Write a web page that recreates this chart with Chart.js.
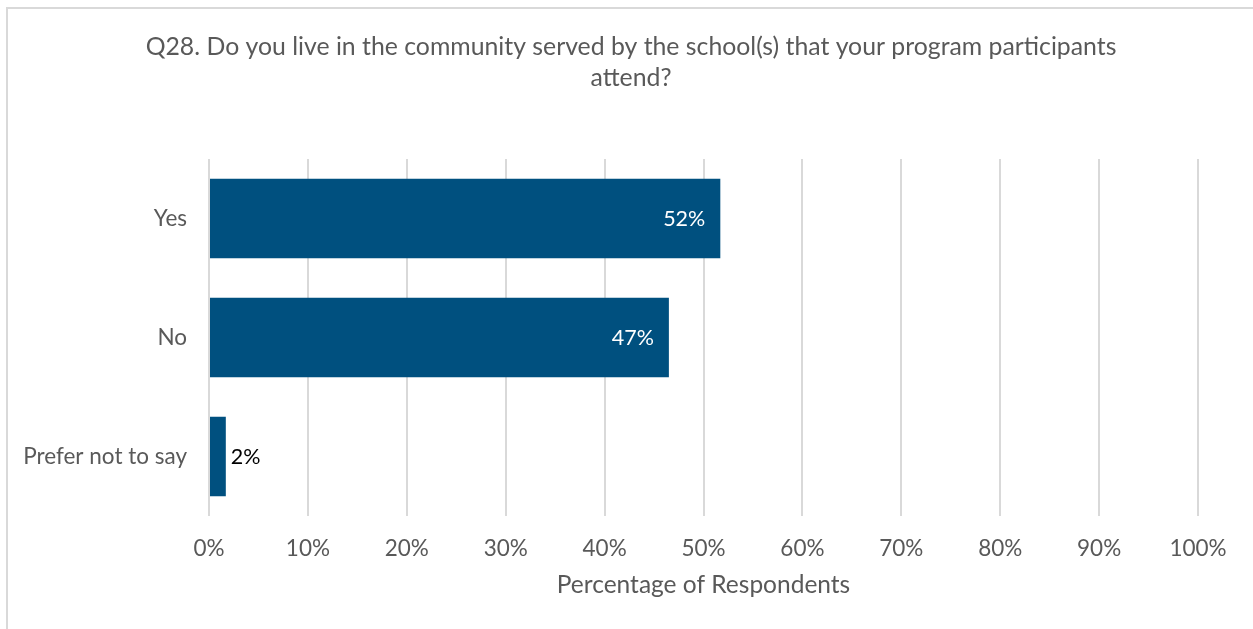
<!DOCTYPE html>
<html>
<head>
<meta charset="utf-8">
<script src="https://cdn.jsdelivr.net/npm/chart.js@4"></script>
<style>
  html, body { margin: 0; padding: 0; background: #fff; }
  #wrap { position: relative; width: 1253px; height: 629px; overflow: hidden; }
  #frame { position: absolute; left: 6px; top: 7px; width: 1300px; height: 700px;
           border-left: 2px solid #d9d9d9; border-top: 2px solid #d9d9d9; box-sizing: border-box; }
  canvas { position: absolute; left: 0; top: 0; }
</style>
</head>
<body>
<div id="wrap">
  <div id="frame"></div>
  <canvas id="chart" width="1253" height="629"></canvas>
</div>
<script>
// Survey question and answers
const titleLines = ['Q28. Do you live in the community served by the school(s) that your program participants', 'attend?'];
const categories = ['Yes', 'No', 'Prefer not to say'];
const percentages = [51.7, 46.5, 1.7];
const xTickValues = [0, 10, 20, 30, 40, 50, 60, 70, 80, 90, 100];
const xAxisTitle = 'Percentage of Respondents';

const FONT = "Lato, 'Open Sans', sans-serif";
const TEXT = '#595959';
const BAR = '#00507F';

// Question title, centred over the whole frame (category labels included) rather than the plot
const frameTitle = {
  id: 'frameTitle',
  afterDraw(chart) {
    const ctx = chart.ctx;
    ctx.save();
    ctx.font = '24.8px ' + FONT;
    ctx.fillStyle = TEXT;
    ctx.textAlign = 'center';
    ctx.textBaseline = 'middle';
    const cx = 631;
    titleLines.forEach((line, i) => ctx.fillText(line, cx, 47 + i * 31));
    ctx.restore();
  }
};

// Writes each percentage at the end of its bar: inside in white when it fits, outside in black otherwise
const barLabels = {
  id: 'barLabels',
  afterDatasetsDraw(chart) {
    const ctx = chart.ctx;
    const meta = chart.getDatasetMeta(0);
    ctx.save();
    ctx.font = '21.5px ' + FONT;
    ctx.textBaseline = 'middle';
    meta.data.forEach((bar, i) => {
      const txt = Math.round(percentages[i]) + '%';
      const w = ctx.measureText(txt).width;
      const len = bar.x - bar.base;
      if (len > w + 24) {
        ctx.fillStyle = '#ffffff';
        ctx.textAlign = 'right';
        ctx.fillText(txt, bar.x - 15, bar.y + 1);
      } else {
        ctx.fillStyle = '#000000';
        ctx.textAlign = 'left';
        ctx.fillText(txt, bar.x + 5, bar.y + 1);
      }
    });
    ctx.restore();
  }
};

new Chart(document.getElementById('chart'), {
  type: 'bar',
  data: {
    labels: categories,
    datasets: [{
      data: percentages,
      backgroundColor: BAR,
      borderWidth: 0,
      categoryPercentage: 0.666,
      barPercentage: 1.0
    }]
  },
  options: {
    indexAxis: 'y',
    responsive: false,
    animation: false,
    layout: { padding: { left: 0, right: 55, top: 159, bottom: 0 } },
    plugins: {
      legend: { display: false },
      tooltip: { enabled: false },
      title: { display: false }
    },
    scales: {
      x: {
        min: 0,
        max: 100,
        afterBuildTicks(scale) { scale.ticks = xTickValues.map(v => ({ value: v })); },
        afterFit(scale) { scale.height = 113; },
        border: { display: false },
        grid: { color: '#d9d9d9', lineWidth: 2, drawTicks: false },
        ticks: {
          color: TEXT,
          padding: 19,
          font: { family: FONT, size: 22.5 },
          callback: v => v + '%'
        },
        title: {
          display: true,
          text: xAxisTitle,
          color: TEXT,
          font: { family: FONT, size: 24.5 },
          padding: { top: 0, bottom: 29 }
        }
      },
      y: {
        afterFit(scale) { scale.width = 209; },
        border: { display: false },
        grid: { display: false, drawTicks: false },
        ticks: {
          color: TEXT,
          padding: 22,
          font: { family: FONT, size: 22.5 }
        }
      }
    }
  },
  plugins: [barLabels, frameTitle]
});
</script>
</body>
</html>
